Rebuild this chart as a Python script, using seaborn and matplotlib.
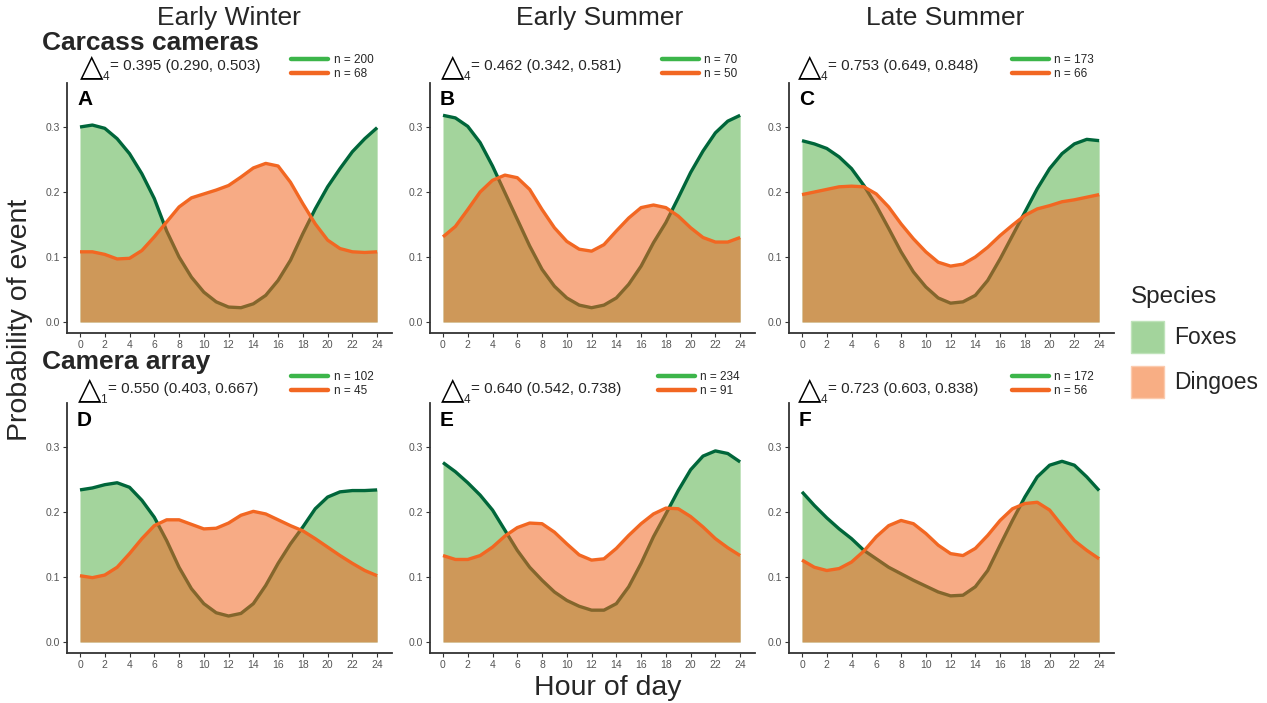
import numpy as np
import pandas as pd
import matplotlib
matplotlib.use("Agg")
import matplotlib.pyplot as plt
from matplotlib.patches import Patch
from matplotlib.lines import Line2D
import seaborn as sns

# ---------------- data ----------------
hours = list(range(25))
x_ticks = list(range(0, 25, 2))
y_ticks = [0.0, 0.1, 0.2, 0.3]

col_titles = ["Early Winter", "Early Summer", "Late Summer"]
row_titles = ["Carcass cameras", "Camera array"]
panel_letters = ["A", "B", "C", "D", "E", "F"]

fox_A = [0.300, 0.303, 0.298, 0.282, 0.259, 0.228, 0.190, 0.140, 0.100, 0.069, 0.046, 0.031, 0.023,
         0.022, 0.028, 0.041, 0.064, 0.095, 0.136, 0.174, 0.208, 0.236, 0.262, 0.282, 0.299]
dingo_A = [0.108, 0.108, 0.104, 0.097, 0.098, 0.110, 0.131, 0.154, 0.177, 0.191, 0.197, 0.203, 0.210,
           0.223, 0.237, 0.244, 0.240, 0.215, 0.182, 0.151, 0.126, 0.113, 0.108, 0.107, 0.108]

fox_B = [0.318, 0.314, 0.301, 0.276, 0.240, 0.199, 0.158, 0.117, 0.081, 0.055, 0.037, 0.026, 0.022,
         0.026, 0.037, 0.058, 0.086, 0.122, 0.153, 0.191, 0.230, 0.263, 0.291, 0.309, 0.318]
dingo_B = [0.131, 0.147, 0.173, 0.200, 0.218, 0.226, 0.222, 0.204, 0.173, 0.145, 0.124, 0.112, 0.109,
           0.119, 0.140, 0.160, 0.176, 0.180, 0.176, 0.163, 0.145, 0.130, 0.123, 0.123, 0.130]

fox_C = [0.279, 0.274, 0.267, 0.254, 0.236, 0.210, 0.179, 0.144, 0.108, 0.077, 0.054, 0.037, 0.029,
         0.031, 0.041, 0.064, 0.097, 0.133, 0.169, 0.205, 0.236, 0.259, 0.274, 0.281, 0.279]
dingo_C = [0.196, 0.200, 0.204, 0.208, 0.209, 0.208, 0.197, 0.177, 0.151, 0.128, 0.108, 0.092, 0.086,
           0.089, 0.100, 0.115, 0.133, 0.149, 0.164, 0.174, 0.179, 0.185, 0.188, 0.192, 0.196]

fox_D = [0.234, 0.237, 0.242, 0.245, 0.238, 0.218, 0.192, 0.156, 0.115, 0.082, 0.059, 0.045, 0.040,
         0.044, 0.059, 0.087, 0.121, 0.151, 0.177, 0.205, 0.223, 0.231, 0.233, 0.233, 0.234]
dingo_D = [0.102, 0.099, 0.103, 0.115, 0.136, 0.159, 0.179, 0.188, 0.188, 0.181, 0.174, 0.175, 0.183,
           0.195, 0.201, 0.197, 0.188, 0.179, 0.171, 0.159, 0.146, 0.133, 0.121, 0.110, 0.102]

fox_E = [0.276, 0.262, 0.245, 0.226, 0.203, 0.172, 0.141, 0.115, 0.095, 0.077, 0.064, 0.055, 0.049,
         0.049, 0.059, 0.085, 0.121, 0.162, 0.197, 0.233, 0.265, 0.286, 0.294, 0.290, 0.277]
dingo_E = [0.133, 0.127, 0.127, 0.133, 0.146, 0.163, 0.176, 0.183, 0.182, 0.169, 0.151, 0.134, 0.126,
           0.128, 0.144, 0.164, 0.182, 0.197, 0.206, 0.205, 0.193, 0.177, 0.159, 0.145, 0.133]

fox_F = [0.231, 0.210, 0.191, 0.174, 0.159, 0.141, 0.128, 0.115, 0.105, 0.095, 0.086, 0.077, 0.071,
         0.072, 0.085, 0.110, 0.149, 0.187, 0.223, 0.254, 0.272, 0.278, 0.272, 0.254, 0.233]
dingo_F = [0.126, 0.115, 0.110, 0.113, 0.123, 0.140, 0.162, 0.179, 0.187, 0.182, 0.167, 0.149, 0.136,
           0.133, 0.144, 0.164, 0.187, 0.205, 0.213, 0.215, 0.203, 0.179, 0.156, 0.141, 0.128]

fox_series = [fox_A, fox_B, fox_C, fox_D, fox_E, fox_F]
dingo_series = [dingo_A, dingo_B, dingo_C, dingo_D, dingo_E, dingo_F]

n_fox = [200, 70, 173, 102, 234, 172]
n_dingo = [68, 50, 66, 45, 91, 56]
delta_sub = ["4", "4", "4", "1", "4", "4"]
delta_text = ["= 0.395 (0.290, 0.503)", "= 0.462 (0.342, 0.581)", "= 0.753 (0.649, 0.848)",
              "= 0.550 (0.403, 0.667)", "= 0.640 (0.542, 0.738)", "= 0.723 (0.603, 0.838)"]

# ---------------- style ----------------
FOX_LINE = "#00663a"
DINGO_LINE = "#f26722"
FOX_FILL = "#a3d49c"
LEG_GREEN = "#3cb54a"
TICK_COL = "#555555"

sns.set_theme(style="white")
plt.rcParams['font.family'] = ['Liberation Sans', 'DejaVu Sans']

W, H = 1267, 703
fig = plt.figure(figsize=(W / 100, H / 100), dpi=100)


def fx(px):
    return px / W


def fy(py):
    return 1 - py / H


ax_left = [67, 430, 789]
ax_top = [83, 403]
ax_w, ax_h = 325, 250

tri_x = [80, 441, 798, 78, 441, 798]
leg_x = [291, 662, 1012, 291, 658, 1012]
row_delta_y = [66, 389]
row_leg_y = [67, 384]

for i in range(6):
    r, c = divmod(i, 3)
    left, top = ax_left[c], ax_top[r]
    ax = fig.add_axes([fx(left), fy(top + ax_h), ax_w / W, ax_h / H])
    fox = fox_series[i]
    dingo = dingo_series[i]
    df_fox = pd.DataFrame({"hour": hours, "p": fox})
    df_dingo = pd.DataFrame({"hour": hours, "p": dingo})

    ax.fill_between(hours, 0, fox, color=FOX_FILL, lw=0, zorder=1)
    sns.lineplot(data=df_fox, x="hour", y="p", color=FOX_LINE, lw=2.4, ax=ax,
                 solid_joinstyle="round", solid_capstyle="butt", zorder=2)
    ax.fill_between(hours, 0, dingo, color=DINGO_LINE, alpha=0.55, lw=0, zorder=3)
    sns.lineplot(data=df_dingo, x="hour", y="p", color=DINGO_LINE, lw=2.4, ax=ax,
                 solid_joinstyle="round", solid_capstyle="butt", zorder=4)

    ax.set_xlim(-1.05, 25.2)
    ax.set_ylim(-0.0169, 0.3677)
    ax.set_xticks(x_ticks)
    ax.set_xticklabels([str(t) for t in x_ticks])
    ax.set_yticks(y_ticks)
    ax.set_yticklabels([f"{t:.1f}" for t in y_ticks])
    ax.set_xlabel("")
    ax.set_ylabel("")
    sns.despine(ax=ax)
    for s in ["left", "bottom"]:
        ax.spines[s].set_color("#333333")
        ax.spines[s].set_linewidth(1.3)
    ax.tick_params(axis="both", which="both", length=3, width=0.8, color="#333333",
                   labelsize=7.5, labelcolor=TICK_COL, pad=2, bottom=True, left=True)

    ax.text(10 / ax_w, 1 - 17 / ax_h, panel_letters[i], transform=ax.transAxes,
            fontsize=15, fontweight="bold", ha="left", va="center", color="black")

    # delta annotation: triangle, subscript just right of it, then the estimate text
    dy = row_delta_y[r]
    tri = fig.text(fx(tri_x[i]), fy(dy + 1), "\u25b3", fontsize=22, ha="left", va="center",
                   family=["DejaVu Sans"], color="black")
    fig.canvas.draw()
    tb = tri.get_window_extent()
    sub = fig.text((tb.x1 - 1) / W, fy(dy + 11), delta_sub[i], fontsize=8.5, ha="left", va="center")
    fig.canvas.draw()
    sb = sub.get_window_extent()
    fig.text((sb.x1 + 0.5) / W, fy(dy), delta_text[i], fontsize=11, ha="left", va="center")

    # sample-size legend
    handles = [Line2D([], [], color=LEG_GREEN, lw=3.2), Line2D([], [], color=DINGO_LINE, lw=3.2)]
    fig.legend(handles=handles, labels=[f"n = {n_fox[i]}", f"n = {n_dingo[i]}"],
               loc="center left", bbox_to_anchor=(fx(leg_x[i]), fy(row_leg_y[r])),
               bbox_transform=fig.transFigure, frameon=False, fontsize=8.5,
               handlelength=3.1, handletextpad=0.5, labelspacing=0.15,
               borderpad=0, borderaxespad=0)

# column and row titles
col_centers = [229, 600, 945]
for t, cx in zip(col_titles, col_centers):
    fig.text(fx(cx), fy(18), t, fontsize=19, ha="center", va="center")
fig.text(fx(42), fy(43), row_titles[0], fontsize=19, fontweight="bold", ha="left", va="center")
fig.text(fx(42), fy(362), row_titles[1], fontsize=19, fontweight="bold", ha="left", va="center")

fig.text(fx(20), fy(320), "Probability of event", fontsize=20.5, rotation=90, ha="center", va="center")
fig.text(fx(608), fy(688), "Hour of day", fontsize=20.5, ha="center", va="center")

# species legend
sp_handles = [Patch(facecolor=FOX_FILL, edgecolor="#bfe3ba", lw=1),
              Patch(facecolor="#f8ae84", edgecolor="#fbcbae", lw=1)]
leg = fig.legend(handles=sp_handles, labels=["Foxes", "Dingoes"], title="Species",
                 loc="upper left", bbox_to_anchor=(fx(1131), fy(286)), bbox_transform=fig.transFigure,
                 frameon=False, fontsize=16.5, title_fontsize=17.5, handlelength=1.45, handleheight=1.8,
                 labelspacing=0.55, handletextpad=0.45, borderpad=0, borderaxespad=0, alignment="left")

fig.savefig("out.png", dpi=100)
